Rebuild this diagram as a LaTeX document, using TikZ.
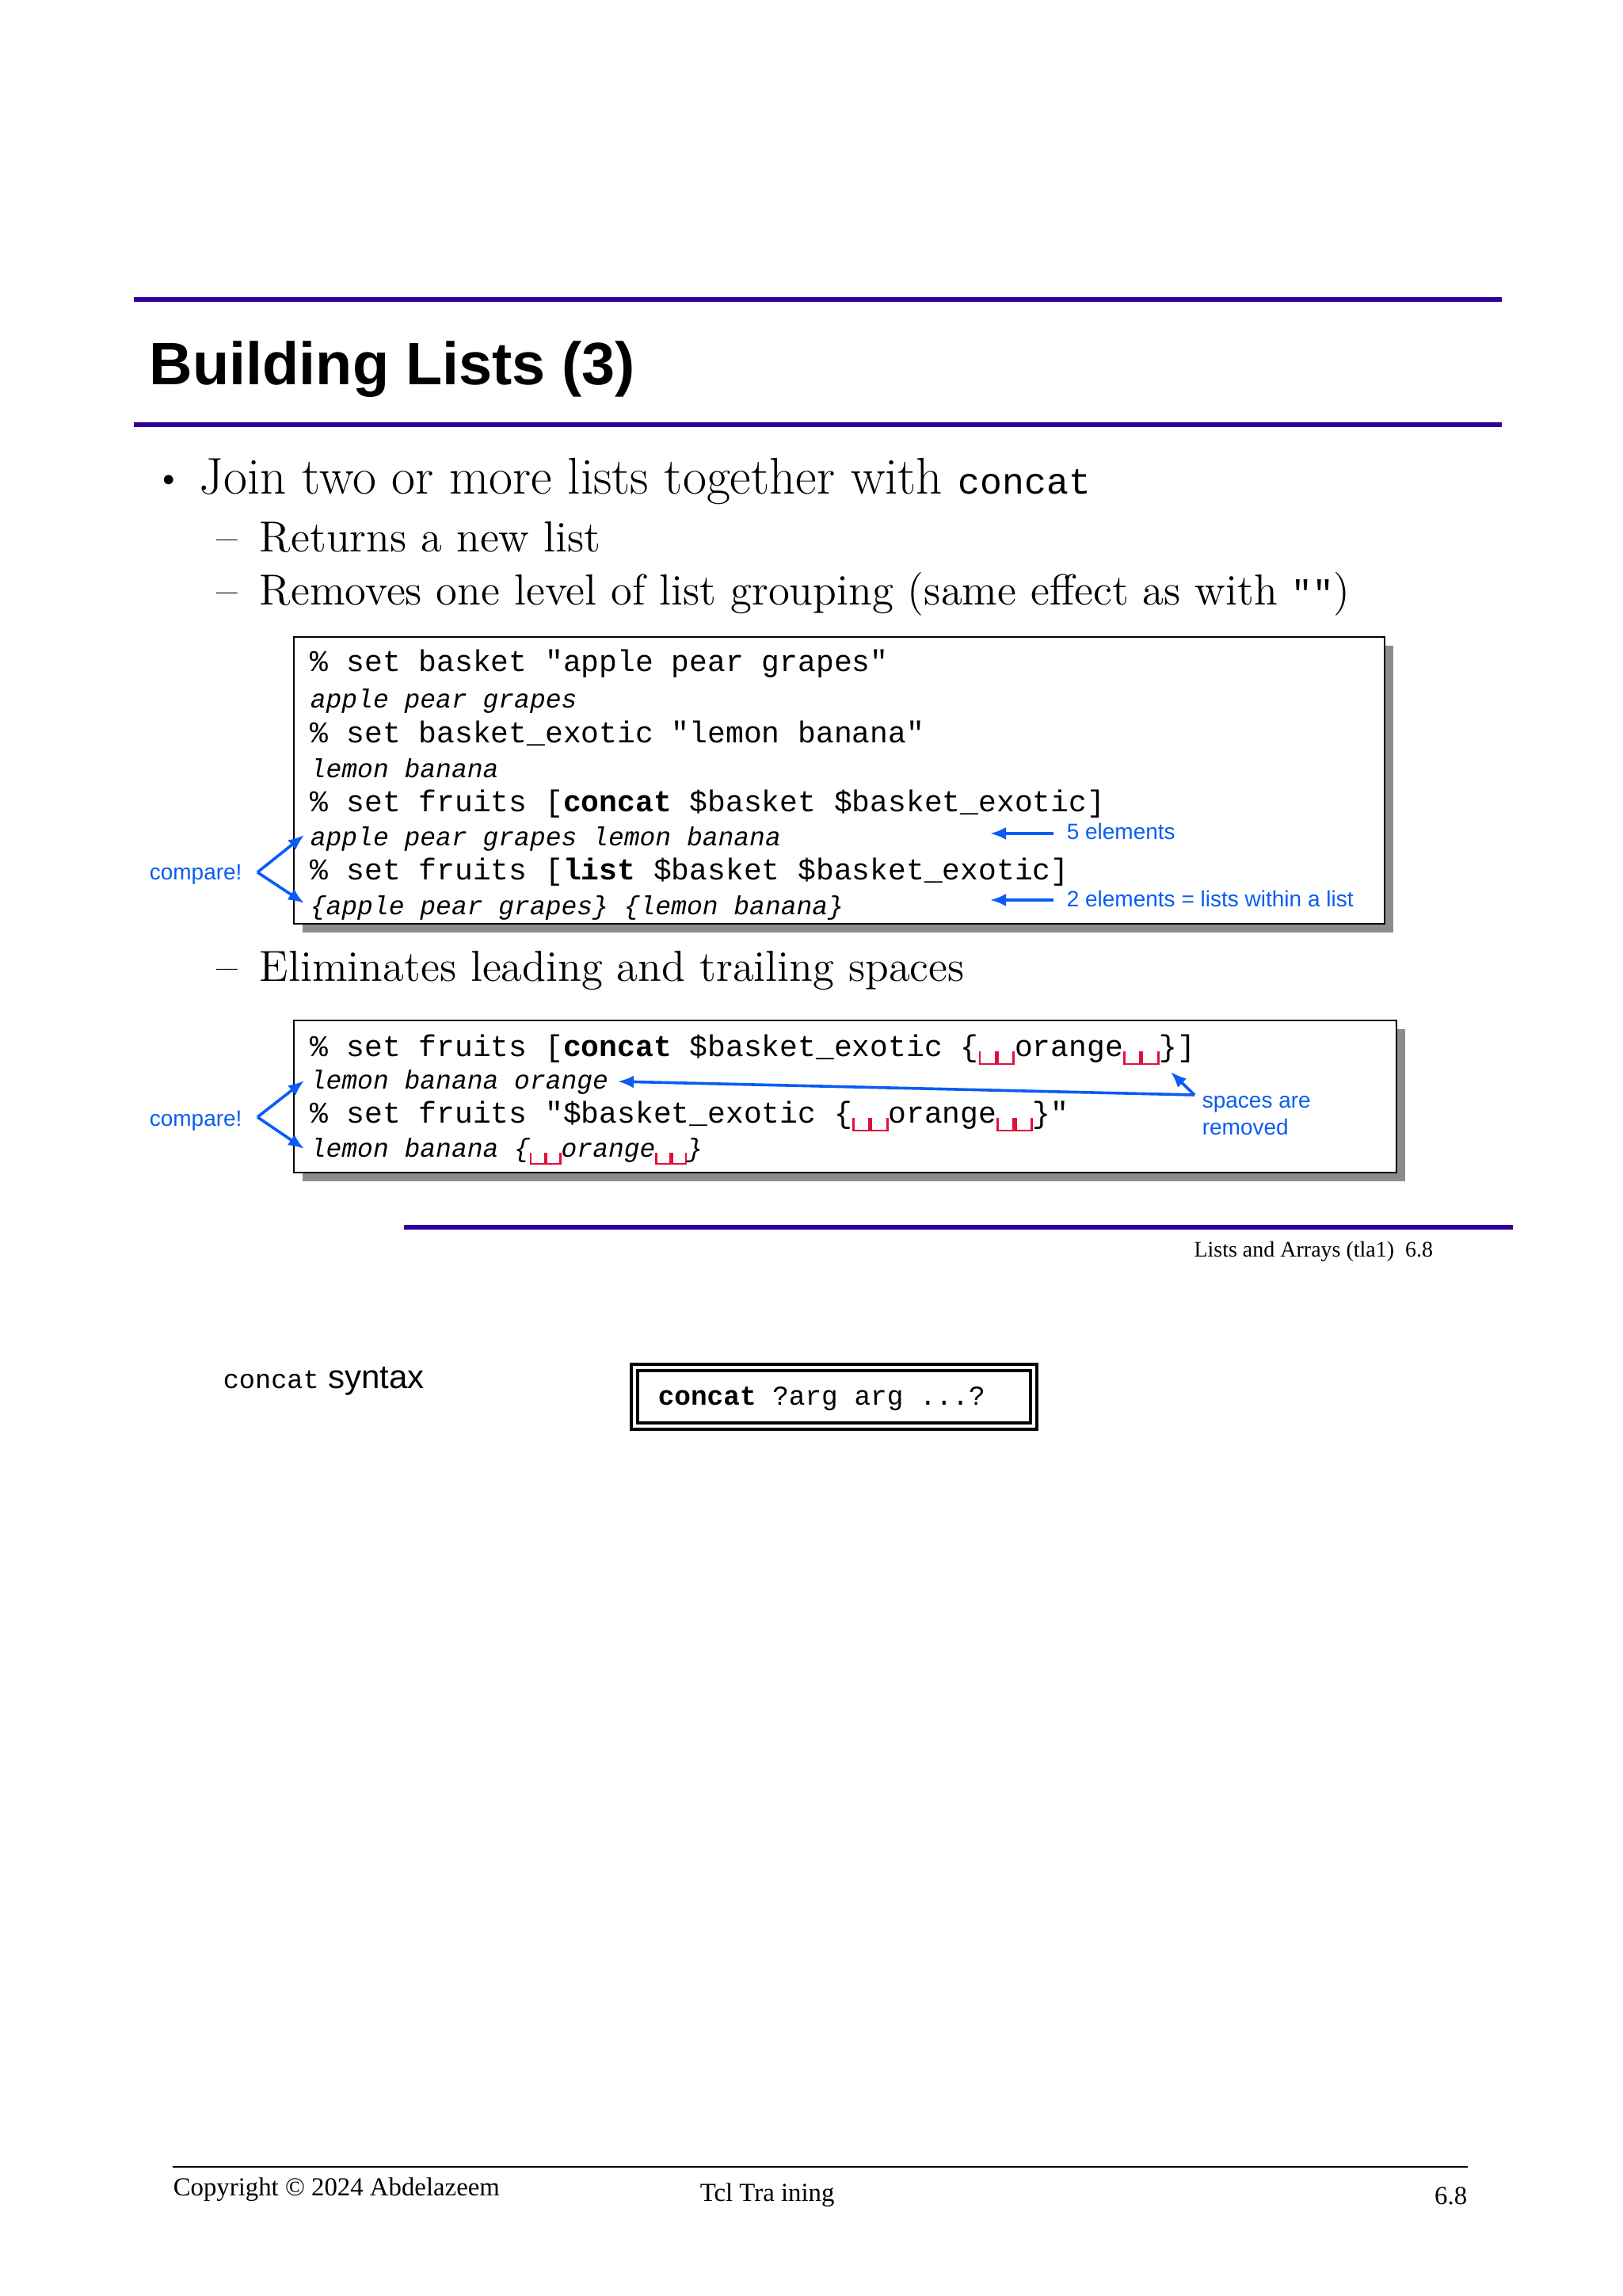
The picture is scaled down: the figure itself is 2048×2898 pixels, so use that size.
\documentclass[tikz,border=0pt]{standalone}
\usepackage{fontspec}
\setmonofont{Liberation Mono}
\newfontfamily\sansf{Liberation Sans}
\newfontfamily\timesf{Liberation Serif}
\usetikzlibrary{arrows.meta}
\definecolor{rulepurple}{HTML}{330099}
\definecolor{annblue}{HTML}{0A5CF5}
\definecolor{spred}{HTML}{E0103A}
\newcommand\spmark{\raisebox{-0.3em}{\textcolor{spred}{\rule{0.07em}{0.45em}\rule{0.46em}{0.07em}\rule{0.07em}{0.45em}}}}
\begin{document}
\begin{tikzpicture}[x=0.25pt,y=-0.25pt,
  every node/.style={inner sep=0pt,anchor=base west},
  code/.style={font=\fontsize{9.5pt}{10pt}\ttfamily},
  outline/.style={font=\fontsize{8.25pt}{9pt}\ttfamily\itshape},
  ann/.style={font=\fontsize{7pt}{8pt}\sansf,text=annblue},
  annarrow/.style={draw=annblue,line width=0.9pt,-{Latex[length=5pt,width=4pt]}},
  prule/.style={draw=rulepurple,line width=1.3pt},
  bullettext/.style={font=\fontsize{16.3pt}{18pt}\selectfont},
  subtext/.style={font=\fontsize{13.7pt}{16pt}\selectfont},
  shadowbox/.style={fill=black!45,draw=none},
  codebox/.style={fill=white,draw=black,line width=0.6pt}]
\useasboundingbox (0,0) rectangle (2048,2898);
\fill[white] (0,0) rectangle (2048,2898);
% rules
\draw[prule] (169,378) -- (1896,378);
\draw[prule] (169,536) -- (1896,536);
\node[font=\fontsize{18.9pt}{22pt}\sansf\bfseries] (title) at (188,486) {Building Lists (3)};
% bullets
\node[bullettext] (b0) at (196,617) {\fontsize{11pt}{12pt}\selectfont\textbullet};
\node[bullettext] (b1) at (251,624) {Join two or more lists together with {\fontsize{11.6pt}{12pt}\ttfamily concat}};
\node[subtext] (d1) at (273,697) {--};
\node[subtext] (b2) at (327,697) {Returns a new list};
\node[subtext] (d2) at (273,763) {--};
\node[subtext] (b3) at (327,763) {Removes one level of list grouping (same effect as with {\fontsize{11pt}{12pt}\ttfamily ""})};
\node[subtext] (d3) at (273,1238) {--};
\node[subtext] (b4) at (327,1238) {Eliminates leading and trailing spaces};
% box 1
\fill[shadowbox] (382,815) rectangle (1759,1177);
\draw[codebox] (371,804) rectangle (1748,1166);
\node[code] (l1) at (391,847) {\% set basket "apple pear grapes"};
\node[outline]  (l2) at (391,893) {apple pear grapes};
\node[code] (l3) at (391,937) {\% set basket\_exotic "lemon banana"};
\node[outline]  (l4) at (391,981) {lemon banana};
\node[code] (l5) at (391,1024) {\% set fruits [\textbf{concat} \$basket \$basket\_exotic]};
\node[outline]  (l6) at (391,1067) {apple pear grapes lemon banana};
\node[code] (l7) at (391,1110) {\% set fruits [\textbf{list} \$basket \$basket\_exotic]};
\node[outline]  (l8) at (391,1154) {\{apple pear grapes\} \{lemon banana\}};
\node[ann] (a5) at (1346,1059) {5 elements};
\node[ann] (a2) at (1346,1144) {2 elements = lists within a list};
\coordinate (a5s) at (1330,1052);
\coordinate (a5e) at (1250,1052);
\coordinate (a2s) at (1330,1136);
\coordinate (a2e) at (1250,1136);
\draw[annarrow] (a5s) -- (a5e);
\draw[annarrow] (a2s) -- (a2e);
\node[ann] (cmp1) at (188,1110) {compare!};
\coordinate (c1) at (325,1101);
\coordinate (c1a) at (384,1054);
\coordinate (c1b) at (384,1140);
\draw[annarrow] (c1) -- (c1a);
\draw[annarrow] (c1) -- (c1b);
% box 2
\fill[shadowbox] (382,1299) rectangle (1774,1491);
\draw[codebox] (371,1288) rectangle (1763,1480);
\node[code] (m1) at (391,1333) {\% set fruits [\textbf{concat} \$basket\_exotic \{\spmark\spmark orange\spmark\spmark\}]};
\node[outline]  (m2) at (391,1374) {lemon banana orange};
\node[code] (m3) at (391,1417) {\% set fruits "\$basket\_exotic \{\spmark\spmark orange\spmark\spmark\}"};
\node[outline]  (m4) at (391,1460) {lemon banana \{\spmark\spmark orange\spmark\spmark\}};
\node[ann] (sp1) at (1517,1398) {spaces are};
\node[ann] (sp2) at (1517,1432) {removed};
\coordinate (spc) at (1508,1382);
\coordinate (spa) at (780,1365);
\coordinate (spb) at (1478,1353);
\draw[annarrow] (spc) -- (spa);
\draw[annarrow] (spc) -- (spb);
\node[ann] (cmp2) at (188,1421) {compare!};
\coordinate (c2) at (325,1410);
\coordinate (c2a) at (384,1364);
\coordinate (c2b) at (384,1450);
\draw[annarrow] (c2) -- (c2a);
\draw[annarrow] (c2) -- (c2b);
% lower rule
\draw[prule] (510,1549) -- (1910,1549);
\node[anchor=base east,font=\fontsize{7pt}{8pt}\timesf] (foot1) at (1810,1586) {Lists and Arrays (tla1)\ \ 6.8};
% syntax
\node[font=\fontsize{10.5pt}{11pt}\sansf] (syn) at (281,1752) {{\fontsize{8.4pt}{9pt}\ttfamily concat} syntax};
\draw[line width=1pt] (797,1722) rectangle (1309,1804);
\draw[line width=1pt] (805,1730) rectangle (1301,1796);
\node[font=\fontsize{8.6pt}{9pt}\ttfamily] (syx) at (830,1773) {\textbf{concat} ?arg arg ...?};
% footer
\draw[line width=0.6pt] (218,2735) -- (1853,2735);
\node[font=\fontsize{8.2pt}{9pt}\timesf] (copy) at (218,2771) {Copyright © 2024 Abdelazeem};
\node[font=\fontsize{8.2pt}{9pt}\timesf] (tcl) at (883,2778) {Tcl Tra ining};
\node[anchor=base east,font=\fontsize{8.2pt}{9pt}\timesf] (pg) at (1853,2782) {6.8};
\end{tikzpicture}
\end{document}
